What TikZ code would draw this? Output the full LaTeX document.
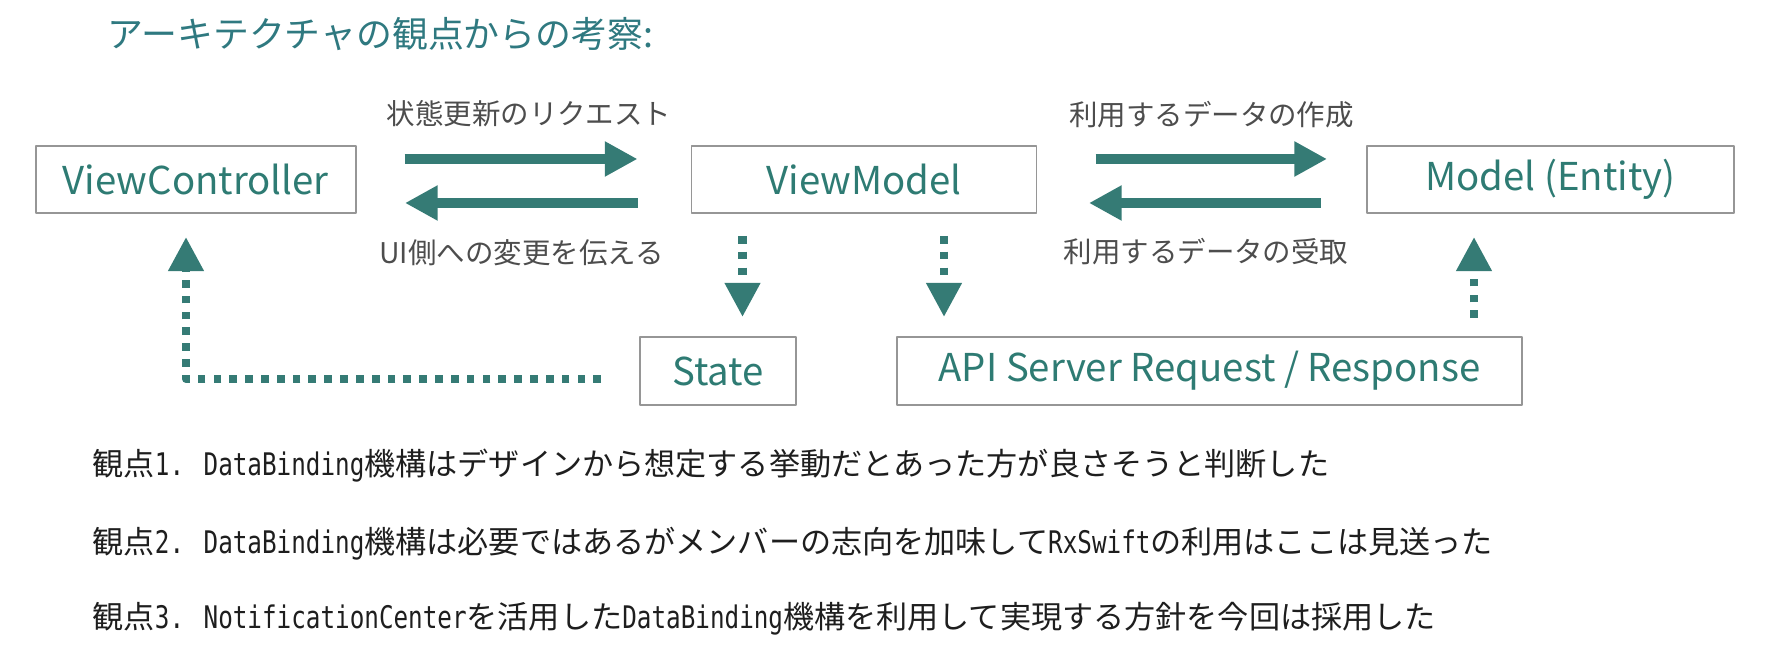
\documentclass[tikz,border=0pt]{standalone}
\usepackage{fontspec}
\setmainfont{Noto Sans CJK JP}
\newfontfamily\monofont[FakeStretch=0.78]{DejaVu Sans Mono}
\usetikzlibrary{arrows.meta}
\definecolor{tealtext}{RGB}{46,123,115}
\definecolor{titleteal}{RGB}{47,121,128}
\definecolor{arrowteal}{RGB}{53,123,117}
\definecolor{labelgray}{RGB}{77,77,77}
\definecolor{boxgray}{RGB}{150,150,150}
\definecolor{notetext}{RGB}{30,30,30}
\tikzset{
  box/.style={draw=boxgray,line width=0.5pt,inner sep=0pt,text=tealtext,font=\fontsize{10.9}{13}\selectfont,minimum height=0.67cm},
  lbl/.style={inner sep=0pt,text=labelgray,font=\fontsize{8.1}{10}\selectfont},
  flow/.style={line width=2.65pt,line cap=butt,color=arrowteal,-{Triangle[length=9.3pt,width=9.4pt]}},
  dotflow/.style={line width=2.3pt,line cap=butt,color=arrowteal,dash pattern=on 2.2pt off 2.3pt,-{Triangle[length=9.7pt,width=9.6pt]}},
  note/.style={inner sep=0pt,anchor=west,text=notetext,font=\fontsize{8.85}{10}\selectfont}
}
\begin{document}
\begin{tikzpicture}[line cap=round,line join=round,x=0.01cm,y=-0.01cm]
\useasboundingbox (0,0) rectangle (1770,662);
% title
\node[anchor=west,inner sep=0pt,text=titleteal,font=\fontsize{10.2}{12}\selectfont] (title) at (107,34) {アーキテクチャの観点からの考察:};
% boxes
\node[box,minimum width=3.2cm] (vc) at (195.75,179.5) {ViewController};
\node[box,minimum width=3.45cm] (vm) at (864,179.5) {ViewModel};
\node[box,minimum width=3.67cm] (model) at (1550.5,179.5) {Model (Entity)};
\node[box,minimum width=1.56cm,minimum height=0.68cm] (state) at (718,371) {State};
\node[box,minimum width=6.25cm,minimum height=0.68cm] (api) at (1209.5,371) {API Server Request / Response};
% arrow labels
\node[lbl] (req) at (529,114) {状態更新のリクエスト};
\node[lbl] (notify) at (521.5,252.5) {UI側への変更を伝える};
\node[lbl] (make) at (1211.5,115) {利用するデータの作成};
\node[lbl] (recv) at (1206,252) {利用するデータの受取};
% solid arrows
\coordinate (reqL) at (404.5,159); \coordinate (reqR) at (637.5,159);
\coordinate (uiL) at (405,203); \coordinate (uiR) at (637.5,203);
\coordinate (mkL) at (1095.5,159); \coordinate (mkR) at (1327,159);
\coordinate (rcL) at (1089,203); \coordinate (rcR) at (1320.7,203);
\draw[flow] (reqL) -- (reqR);
\draw[flow] (uiR) -- (uiL);
\draw[flow] (mkL) -- (mkR);
\draw[flow] (rcR) -- (rcL);
% dotted arrows
\coordinate (stTip) at (742.5,317);
\coordinate (apiTip) at (944,317);
\coordinate (mdTip) at (1474,237);
\coordinate (vcTip) at (186,237);
\coordinate (bend) at (186,379);
\draw[dotflow,shorten <=0.22cm] (vm.south -| stTip) -- (stTip);
\draw[dotflow,shorten <=0.22cm] (vm.south -| apiTip) -- (apiTip);
\draw[dotflow,shorten <=0.18cm] (api.north -| mdTip) -- (mdTip);
\draw[dotflow,shorten <=0.38cm] (state.west |- bend) -- (bend) -- (vcTip);
% notes
\node[note] (p1) at (92,466) {観点{\monofont 1. DataBinding}機構はデザインから想定する挙動だとあった方が良さそうと判断した};
\node[note] (p2) at (92,544) {観点{\monofont 2. DataBinding}機構は必要ではあるがメンバーの志向を加味して{\monofont RxSwift}の利用はここは見送った};
\node[note] (p3) at (92,619) {観点{\monofont 3. NotificationCenter}を活用した{\monofont DataBinding}機構を利用して実現する方針を今回は採用した};
\end{tikzpicture}
\end{document}
